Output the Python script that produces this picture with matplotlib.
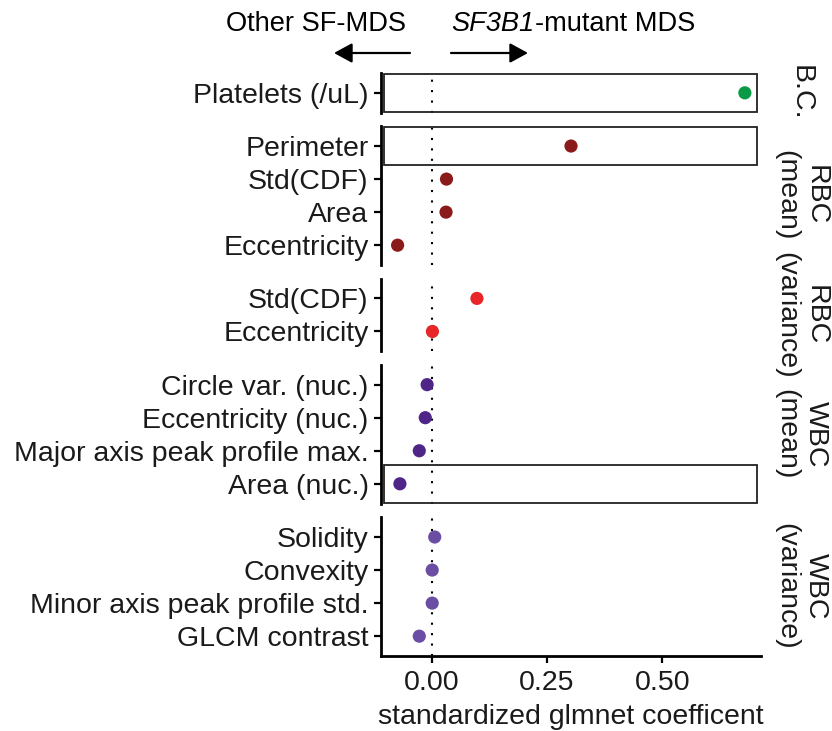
import matplotlib
matplotlib.use("Agg")
import matplotlib.pyplot as plt
from matplotlib.patches import Rectangle, FancyArrowPatch
from matplotlib.transforms import offset_copy

plt.rcParams["font.family"] = ["Liberation Sans", "DejaVu Sans"]

# Feature groups (top to bottom within each facet) and their coefficients
bc_labels = ["Platelets (/uL)"]
bc_values = [0.679]

rbc_mean_labels = ["Perimeter", "Std(CDF)", "Area", "Eccentricity"]
rbc_mean_values = [0.302, 0.032, 0.031, -0.074]

rbc_var_labels = ["Std(CDF)", "Eccentricity"]
rbc_var_values = [0.098, 0.0015]

wbc_mean_labels = ["Circle var. (nuc.)", "Eccentricity (nuc.)",
                   "Major axis peak profile max.", "Area (nuc.)"]
wbc_mean_values = [-0.010, -0.014, -0.027, -0.069]

wbc_var_labels = ["Solidity", "Convexity", "Minor axis peak profile std.",
                  "GLCM contrast"]
wbc_var_values = [0.0065, 0.001, 0.001, -0.027]

strip_labels = ["B.C.", "RBC\n(mean)", "RBC\n(variance)", "WBC\n(mean)",
                "WBC\n(variance)"]
group_colors = ["#0a9a46", "#8b1a1a", "#e8262a", "#4f2687", "#6b4ea3"]

# Features highlighted with a frame: (facet index, feature label)
highlighted = [(0, "Platelets (/uL)"), (1, "Perimeter"), (3, "Area (nuc.)")]

x_ticks = [0.0, 0.25, 0.50]
x_ticklabels = ["0.00", "0.25", "0.50"]
x_label = "standardized glmnet coefficent"

groups = [
    (bc_labels, bc_values),
    (rbc_mean_labels, rbc_mean_values),
    (rbc_var_labels, rbc_var_values),
    (wbc_mean_labels, wbc_mean_values),
    (wbc_var_labels, wbc_var_values),
]

W, H = 832, 731
fig = plt.figure(figsize=(W / 100, H / 100), dpi=100)
heights = [len(g[0]) + 0.2 for g in groups]
gs = fig.add_gridspec(len(groups), 1, height_ratios=heights,
                      left=381 / W, right=761 / W,
                      top=1 - 73 / H, bottom=1 - 656 / H, hspace=0.128)

xlim = (-0.110, 0.714)
rect_x = (-0.103, 0.705)
fs = 20.5
txt_color = "#1a1a1a"

axes = []
for i, ((labels, values), color, strip) in enumerate(
        zip(groups, group_colors, strip_labels)):
    ax = fig.add_subplot(gs[i])
    axes.append(ax)
    n = len(labels)
    ypos = [n - 1 - k for k in range(n)]
    ax.set_xlim(*xlim)
    ax.set_ylim(-0.6, n - 1 + 0.6)

    ax.axvline(0, color="black", lw=1.5, linestyle=(0, (1, 4)), zorder=1)
    for gi, lab in highlighted:
        if gi == i:
            y = ypos[labels.index(lab)]
            ax.add_patch(Rectangle((rect_x[0], y - 0.58),
                                   rect_x[1] - rect_x[0], 1.16,
                                   fill=False, edgecolor="#222222",
                                   lw=1.3, zorder=2))
    ax.scatter(values, ypos, s=90, color=color, edgecolors="none", zorder=3)

    ax.set_yticks(ypos)
    ax.set_yticklabels(labels, fontsize=fs, color=txt_color)
    for s in ["top", "right", "bottom"]:
        ax.spines[s].set_visible(False)
    ax.spines["left"].set_linewidth(2.0)
    ax.tick_params(axis="y", length=5, width=1.6, pad=4)
    if i < len(groups) - 1:
        ax.tick_params(axis="x", bottom=False, labelbottom=False)
    else:
        ax.spines["bottom"].set_visible(True)
        ax.spines["bottom"].set_linewidth(2.0)
        ax.set_xticks(x_ticks)
        ax.set_xticklabels(x_ticklabels, fontsize=fs, color=txt_color)
        ax.tick_params(axis="x", length=5, width=1.6, pad=5)
        ax.set_xlabel(x_label, fontsize=fs, color=txt_color, labelpad=6)

    ax.text(1.105, 0.5, strip, transform=ax.transAxes, rotation=-90,
            ha="center", va="center", fontsize=fs, color=txt_color,
            multialignment="center", linespacing=1.15, clip_on=False)

# Direction annotations above the panels
top_fs = 19.6
text_y = 1 - 24 / H
fig.text(406 / W, text_y, "Other SF-MDS", ha="right", va="center",
         fontsize=top_fs, color="black")
t_it = fig.text(451 / W, text_y, "SF3B1", ha="left", va="center",
                fontsize=top_fs, color="black", style="italic")
fig.canvas.draw()
fig.text(0, 0, "-mutant MDS", fontsize=top_fs, color="black",
         ha="left", va="center",
         transform=offset_copy(fig.transFigure, fig=fig, units="dots",
                               x=t_it.get_window_extent().x1 + 1,
                               y=text_y * H))

arrow_y = 1 - 53 / H
arrow_kw = dict(arrowstyle="-|>,head_length=0.55,head_width=0.3",
                color="black", lw=1.6, shrinkA=0, shrinkB=0)
fig.add_artist(FancyArrowPatch((410 / W, arrow_y), (334 / W, arrow_y),
                               transform=fig.transFigure, mutation_scale=20,
                               **arrow_kw))
fig.add_artist(FancyArrowPatch((451 / W, arrow_y), (528 / W, arrow_y),
                               transform=fig.transFigure, mutation_scale=20,
                               **arrow_kw))

fig.savefig("out.png", dpi=100, facecolor="white")
